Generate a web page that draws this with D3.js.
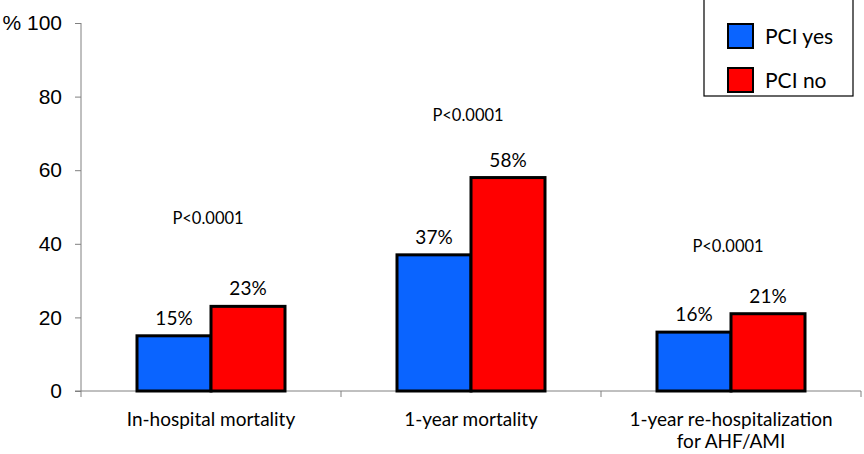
<!DOCTYPE html>
<html>
<head>
<meta charset="utf-8">
<script src="https://cdn.jsdelivr.net/npm/d3@7"></script>
<style>
  body { margin: 0; background: #fff; }
  svg { display: block; }
</style>
</head>
<body>
<div id="chart"></div>
<script>
// chart data
var categories = ["In-hospital mortality", "1-year mortality", "1-year re-hospitalization\nfor AHF/AMI"];
var series = ["PCI yes", "PCI no"];
var pciYes = [15, 37, 16];
var pciNo = [23, 58, 21];
var pLabels = ["P<0.0001", "P<0.0001", "P<0.0001"];
var pLevel = [47, 75, 39.5];   // height of the p-value text, in % units
var yTicks = [0, 20, 40, 60, 80, 100];

var colors = ["#0a64ff", "#ff0000"];

var width = 864, height = 454;
var svg = d3.select("#chart").append("svg").attr("width", width).attr("height", height);

var x = d3.scaleBand().domain(categories).range([81, 861]);
var x1 = d3.scaleBand().domain(series).range([56, 204]);
var y = d3.scaleLinear().domain([0, 100]).range([391, 23]);

// y axis
var yAxis = d3.axisLeft(y).tickValues(yTicks).tickSize(6).tickSizeOuter(0)
  .tickFormat(function (d) { return d == 100 ? "% 100" : d; });
var gy = svg.append("g").attr("transform", "translate(81,0)").call(yAxis);
gy.select(".domain").attr("stroke", "#808080").attr("d", "M0,23V397");
gy.selectAll(".tick line").attr("stroke", "#808080");
gy.selectAll(".tick text").attr("x", -19).attr("fill", "#000")
  .style("font-family", "Liberation Sans, Arial, sans-serif").style("font-size", "21px");

// x axis line and category ticks
svg.append("line").attr("x1", 75).attr("x2", 861).attr("y1", y(0)).attr("y2", y(0)).attr("stroke", "#808080");
svg.selectAll(".ctick").data(categories).enter().append("line")
  .attr("x1", function (d) { return x(d) + x.bandwidth(); })
  .attr("x2", function (d) { return x(d) + x.bandwidth(); })
  .attr("y1", y(0)).attr("y2", y(0) + 6).attr("stroke", "#808080");

var rows = categories.map(function (c, i) { return { cat: c, vals: [pciYes[i], pciNo[i]] }; });

var groups = svg.selectAll(".grp").data(rows).enter().append("g")
  .attr("transform", function (d) { return "translate(" + x(d.cat) + ",0)"; });

groups.selectAll("rect").data(function (d) { return d.vals; }).enter().append("rect")
  .attr("x", function (d, i) { return x1(series[i]); })
  .attr("width", x1.bandwidth())
  .attr("y", function (d) { return y(d); })
  .attr("height", function (d) { return y(0) - y(d); })
  .attr("fill", function (d, i) { return colors[i]; })
  .attr("stroke", "#000").attr("stroke-width", 3);

groups.selectAll(".val").data(function (d) { return d.vals; }).enter().append("text")
  .attr("x", function (d, i) { return x1(series[i]) + x1.bandwidth() / 2; })
  .attr("y", function (d) { return y(d) - 11; })
  .attr("text-anchor", "middle")
  .style("font-family", "Lato, Open Sans, sans-serif").style("font-size", "19px")
  .text(function (d) { return d + "%"; });

// p values
svg.selectAll(".pv").data(pLabels).enter().append("text")
  .attr("x", function (d, i) { return x(categories[i]) + 127; })
  .attr("y", function (d, i) { return y(pLevel[i]) + 6; })
  .attr("text-anchor", "middle")
  .style("font-family", "Lato, Open Sans, sans-serif").style("font-size", "16.5px")
  .text(function (d) { return d; });

// category labels
svg.selectAll(".cat").data(categories).enter().append("text")
  .attr("x", function (d) { return x(d) + x.bandwidth() / 2; })
  .attr("y", 426)
  .attr("text-anchor", "middle")
  .style("font-family", "Lato, Open Sans, sans-serif").style("font-size", "19px")
  .each(function (d) {
    var lines = d.split("\n");
    var t = d3.select(this);
    lines.forEach(function (l, k) {
      t.append("tspan").attr("x", t.attr("x")).attr("dy", k == 0 ? 0 : 22).text(l);
    });
  });

// legend
var lg = svg.append("g");
lg.append("rect").attr("x", 704).attr("y", -1).attr("width", 149).attr("height", 97)
  .attr("fill", "#fff").attr("stroke", "#000").attr("stroke-width", 1.2);
series.forEach(function (s, i) {
  lg.append("rect").attr("x", 728).attr("y", 24 + i * 44).attr("width", 25).attr("height", 24)
    .attr("fill", colors[i]).attr("stroke", "#000").attr("stroke-width", 2);
  lg.append("text").attr("x", 765).attr("y", 44 + i * 44)
    .style("font-family", "Lato, Open Sans, sans-serif").style("font-size", "21px").text(s);
});
</script>
</body>
</html>
